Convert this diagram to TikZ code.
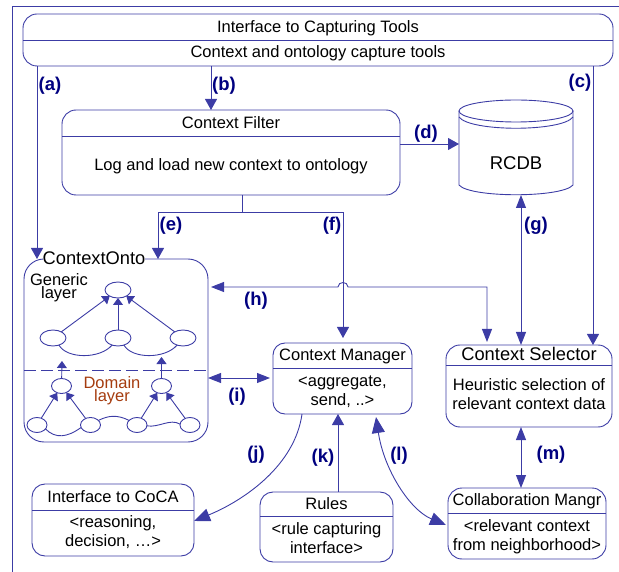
\documentclass[tikz,border=0pt]{standalone}
\usepackage{fontspec}
\setmainfont{Liberation Sans}
\usetikzlibrary{arrows.meta}
\usetikzlibrary{shapes.geometric}
\definecolor{linecol}{RGB}{60,60,165}
\definecolor{labcol}{RGB}{0,0,128}
\definecolor{domcol}{RGB}{165,60,15}
\tikzset{
  cbox/.style={draw=linecol, line width=.9pt, inner sep=0, outer sep=0},
  txt/.style={inner sep=0, font=\fontsize{16.5}{19}\selectfont},
  lab/.style={inner sep=0, text=labcol, font=\fontsize{18.5}{20}\selectfont\bfseries},
  link/.style={draw=linecol, line width=.9pt, -{Triangle[length=11pt,width=12pt]}},
  both/.style={draw=linecol, line width=.9pt, {Triangle[length=13pt,width=10pt]}-{Triangle[length=13pt,width=10pt]}},
  bendlink/.style={draw=linecol, line width=.9pt, -{Triangle[length=16pt,width=13pt]}},
  bendboth/.style={draw=linecol, line width=.9pt, {Triangle[length=16pt,width=13pt]}-{Triangle[length=16pt,width=13pt]}},
  onode/.style={draw=linecol, line width=.9pt, ellipse, inner sep=0, outer sep=0},
  olink/.style={draw=linecol, line width=.9pt, -{Triangle[length=7pt,width=10pt]}},
  ocurve/.style={draw=linecol, line width=.9pt},
}
\begin{document}
\begin{tikzpicture}[x=1pt,y=-1pt]
\useasboundingbox (0,0) rectangle (619,572);
\draw[linecol, line width=.9pt] (12,572)--(12,6)--(619,6);
% boxes
\foreach \n/\cx/\cy/\w/\h/\r in {tools/318/40/590/52/14, filter/231/152.5/338/85/14,
  onto/116/350.5/184/183/20, mgr/342.5/378.5/139/71/12, sel/529/386/166/82/14,
  collab/527/523.5/158/71/14, rules/326.5/527/133/70/13, coca/113/520/162/72/13}
 \node[cbox, minimum width=\w, minimum height=\h, rounded corners=\r] (\n) at (\cx,\cy) {};
\foreach \n/\y in {tools/40, filter/136, mgr/368, sel/365, collab/513, rules/516, coca/510}
 \draw[cbox] (\n.west |- 0,\y) -- (\n.east |- 0,\y);
\draw[cbox, dash pattern=on 12pt off 5pt] (onto.west |- 0,370) -- (onto.east |- 0,370);
% database
\node[minimum width=114, minimum height=95, inner sep=0, outer sep=0] (rcdb) at (516,147.5) {};
\draw[cbox] (516,111) ellipse [x radius=57, y radius=11];
\draw[cbox] (459,111) -- (459,185) .. controls (470,198) and (562,198) .. (573,185) -- (573,111);
\draw[cbox] (459,117) .. controls (470,132) and (562,132) .. (573,117);
\node[txt, font=\fontsize{18.5}{20}\selectfont] (rcdbt) at (516,163.5) {RCDB};
% texts
\node[txt] (t1) at (318,28) {Interface to Capturing Tools};
\node[txt] (t2) at (318,53.5) {Context and ontology capture tools};
\node[txt] (t3) at (231,123) {Context Filter};
\node[txt] (t4) at (231,166.5) {Log and load new context to ontology};
\node[txt, fill=white, font=\fontsize{18.3}{20}\selectfont] (t5) at (94,258) {ContextOnto};
\node[txt, align=center, font=\fontsize{16.5}{13}\selectfont] (t6) at (59,288) {Generic\\layer};
\node[txt, align=center, text=domcol, font=\fontsize{16.5}{13}\selectfont] (t7) at (112,390.5) {Domain\\layer};
\node[txt] (t8) at (342.5,356.5) {Context Manager};
\node[txt, align=center, font=\fontsize{16.5}{19}\selectfont] (t9) at (342.5,391.5) {<aggregate,\\send, ..>};
\node[txt, font=\fontsize{18.3}{20}\selectfont] (t10) at (529,354) {Context Selector};
\node[txt, align=center, font=\fontsize{16.5}{19}\selectfont] (t11) at (529,394.5) {Heuristic selection of\\relevant context data};
\node[txt] (t12) at (527,501.5) {Collaboration Mangr};
\node[txt, align=center, font=\fontsize{16.5}{19}\selectfont] (t13) at (527,536.5) {<relevant context\\from neighborhood>};
\node[txt] (t14) at (326.5,503.5) {Rules};
\node[txt, align=center, font=\fontsize{16.5}{19}\selectfont] (t15) at (326.5,538) {<rule capturing\\interface>};
\node[txt] (t16) at (113,497) {Interface to CoCA};
\node[txt, align=center, font=\fontsize{16.5}{19}\selectfont] (t17) at (113,532.5) {<reasoning,\\decision, \dots>};
% ontology inside
\foreach \n/\x/\y in {gt/118/290, g1/53/338, g2/118/338, g3/183/338}
 \node[onode, minimum width=26, minimum height=16] (\n) at (\x,\y) {};
\foreach \n/\x/\y in {d1/61.5/386, d2/161.5/386, b1/37/425, b2/90.5/425, b3/137/425, b4/190/425}
 \node[onode, minimum width=20, minimum height=15] (\n) at (\x,\y) {};
\foreach \a/\b in {g1/gt, g2/gt, g3/gt, b1/d1, b2/d1, b3/d2, b4/d2}
 \draw[olink] (\a) -- (\b);
\coordinate (u1) at (62,361);
\coordinate (u2) at (161.5,357);
\draw[olink] (d1) -- (u1);
\draw[olink] (d2) -- (u2);
\draw[ocurve] (g1.-50) .. controls +(8,14) and +(-12,14) .. (g2.-130);
\draw[ocurve] (g2.-50) .. controls +(8,14) and +(-12,14) .. (g3.-130);
\draw[ocurve] (b1.-25) .. controls +(10,10) and +(-14,10) .. (b2.-165);
\draw[ocurve] (b2.30) .. controls +(10,-5) and +(-12,-6) .. (b3.150);
\draw[ocurve] (b3.-5) .. controls +(12,2) and +(-10,-6) .. (b4.175);
% connectors
\coordinate (xa) at (37,0);
\coordinate (xb) at (211,0);
\coordinate (xc) at (593,0);
\coordinate (yd) at (0,144);
\coordinate (xe) at (158,0);
\coordinate (xf) at (343,0);
\coordinate (xg) at (521,0);
\coordinate (xh) at (487,0);
\coordinate (yi) at (0,378);
\coordinate (xk) at (338,0);
\coordinate (trunk) at (242,212);
\draw[link] (tools.south -| xa) -- (onto.north -| xa);
\draw[link] (tools.south -| xb) -- (filter.north -| xb);
\draw[link] (tools.south -| xc) -- (sel.north -| xc);
\draw[link] (filter.east |- yd) -- (rcdb.west |- yd);
\draw[cbox] (filter.south -| trunk) -- (trunk);
\draw[link] (trunk) -| (onto.north -| xe);
\draw[link, shorten >=5pt] (trunk) -| (mgr.north -| xf);
\draw[both] (rcdb.south -| xg) -- (sel.north -| xg);
\draw[both, shorten >=3pt, shorten <=3pt] (sel.north -| xh) -- (487,287) -- (348,287)
  .. controls (348,281) and (338,281) .. (338,287) -- (onto.east |- 0,287);
\draw[both, shorten >=3pt] (onto.east |- yi) -- (mgr.west |- yi);
\draw[bendlink] (mgr.south -| 302,0) .. controls (295,465) and (245,500) .. (coca.east |- 0,521);
\draw[link] (rules.north -| xk) -- (mgr.south -| xk);
\draw[bendboth] (376,417) .. controls (384,470) and (410,510) .. (446,525);
\draw[both] (sel.south -| xg) -- (collab.north -| xg);
% labels
\foreach \t/\x/\y in {a/50/86, b/224/86, c/580/83, d/426/134, e/171/226, f/332/226, g/536/226,
  h/256/301, i/237/397, j/256/455, k/323/458, l/399/456, m/551/455}
 \node[lab] (lab\t) at (\x,\y) {(\t)};
\end{tikzpicture}
\end{document}
